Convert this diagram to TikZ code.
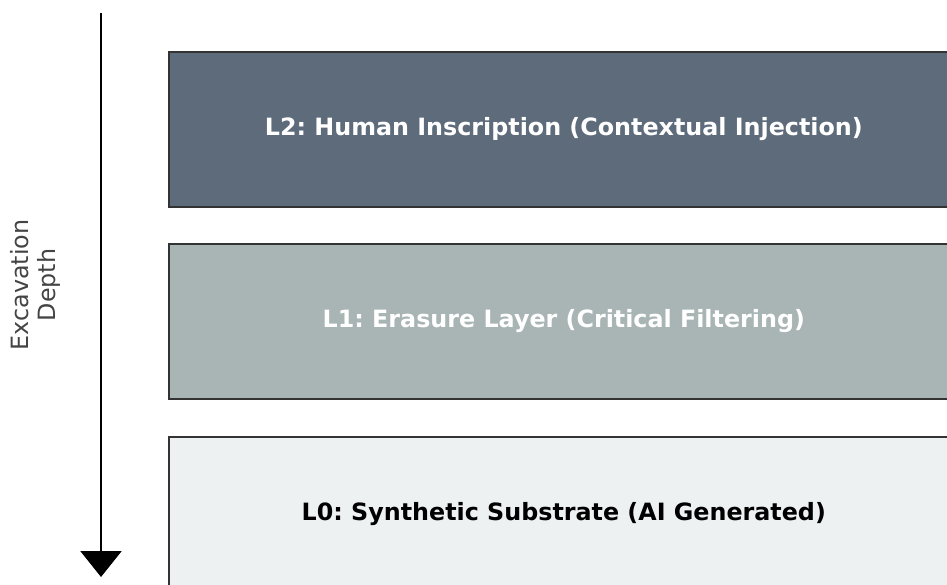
\documentclass[tikz,border=0pt]{standalone}
\usepackage{fontspec}
\setmainfont{DejaVu Sans}
\usetikzlibrary{arrows.meta}
\frenchspacing
\definecolor{layertwo}{HTML}{5D6B7B}
\definecolor{layerone}{HTML}{A9B5B5}
\definecolor{layerzero}{HTML}{EEF1F2}
\definecolor{edgegray}{HTML}{333333}
\definecolor{labelgray}{HTML}{444444}
\tikzset{
  layerbox/.style={draw=edgegray, line width=1.6pt, minimum width=790pt, minimum height=155pt,
    inner sep=0pt, font=\fontsize{23.8}{28}\selectfont\bfseries, anchor=north west},
  deptharrow/.style={line width=2.2pt, -{Triangle[width=41pt,length=26pt]}}
}
\begin{document}
\begin{tikzpicture}[x=1pt,y=-1pt]
  \useasboundingbox (0,0) rectangle (947,584);
  % stratigraphic layers, top to bottom
  \node[layerbox, fill=layertwo, text=white] (l2) at (168,51) {L2: Human Inscription (Contextual Injection)};
  \node[layerbox, fill=layerone, text=white] (l1) at (168,243) {L1: Erasure Layer (Critical Filtering)};
  \node[layerbox, fill=layerzero, text=black] (l0) at (168,436) {L0: Synthetic Substrate (AI Generated)};
  % depth axis
  \coordinate (top) at (101,13);
  \coordinate (bottom) at (101,577);
  \draw[deptharrow] (top) -- (bottom);
  \node[rotate=90, align=center, text=labelgray, font=\fontsize{23.8}{27}\selectfont] (depth) at (35,285) {Excavation\\Depth};
\end{tikzpicture}
\end{document}
